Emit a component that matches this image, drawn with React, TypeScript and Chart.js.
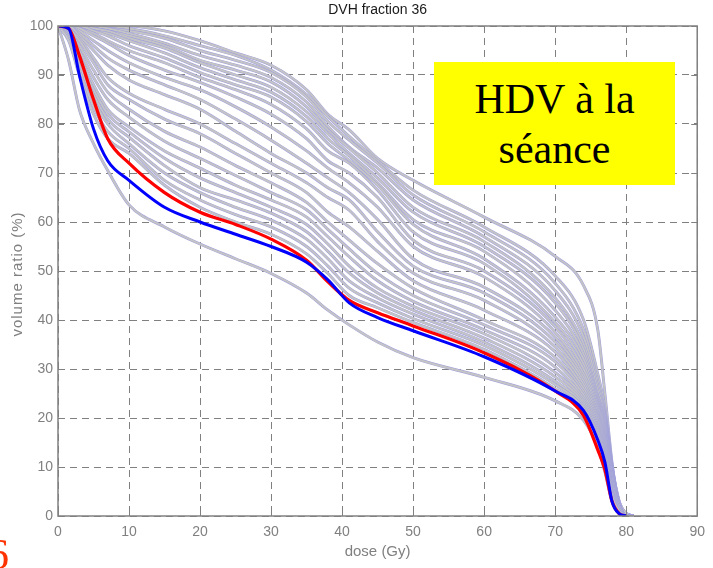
import React, { useEffect, useRef } from "react";
import { Chart, registerables } from "chart.js";

Chart.register(...registerables);

const TITLE = "DVH fraction 36";
const X_TITLE = "dose (Gy)";
const Y_TITLE = "volume ratio (%)";
const BOX_LINES = ["HDV à la", "séance"];

const X_TICKS = [0, 10, 20, 30, 40, 50, 60, 70, 80, 90];
const Y_TICKS = [0, 10, 20, 30, 40, 50, 60, 70, 80, 90, 100];

// shared dose grid (Gy)
const DOSE = [0, 1.5, 3, 5, 7, 10, 15, 20, 25, 30, 35, 38, 41, 45, 50, 60, 70, 74, 76, 77, 78, 79, 80, 81];

// highlighted curves (volume %)
const RED = [100, 99.5, 94, 85, 77, 72, 66, 62, 59.5, 56.5, 52.2, 47.8, 44, 41.5, 38.8, 33.3, 25.5, 20.5, 13.5, 9.5, 3, 0.5, 0, null];
const BLUE = [100, 99.5, 90, 79, 72.5, 68.5, 63, 60, 57.5, 55, 51.8, 48.2, 43.5, 40.5, 37.8, 32.5, 25.5, 21.5, 15.5, 11, 3, 0.5, 0, null];

// other fractions (volume %)
const G0 = [100, 93, 83, 76, 70.5, 63.5, 59, 55.5, 52.5, 49.5, 45.5, 42, 39, 35.5, 32.3, 28.3, 23.5, 19.5, 14, 9, 3, 0.5, 0, 0];
const G1 = [100, 97, 90, 82, 77, 74, 67.5, 63, 60, 57.5, 53.5, 49.5, 45, 42.5, 39.5, 34, 26, 21.5, 16, 11, 4, 1, 0, 0];
const G2 = [100, 97.5, 91, 83.5, 78.5, 75, 68.5, 64.5, 61.5, 59, 55, 51, 46.5, 43.5, 40.3, 34.8, 26.8, 22, 16.5, 11.5, 4.5, 1, 0, 0];
const G3 = [100, 98, 92, 85, 80, 76, 70, 66, 63, 60.4, 56.5, 52.5, 48, 44.5, 41.2, 35.5, 27.5, 22.5, 17, 12, 5, 1, 0, 0];
const G4 = [100, 98, 92.5, 86, 81, 77.3, 71.5, 67, 64.5, 61.8, 58, 54, 49.6, 45.5, 42, 36.3, 28.4, 23, 17.5, 12.5, 5, 1.5, 0, 0];
const G5 = [100, 98.5, 93, 87, 82, 78.4, 73, 69, 66, 63, 59.5, 55.5, 51, 46.5, 42.8, 37.2, 29.3, 23.5, 18, 13, 5.5, 1.5, 0, 0];
const G6 = [100, 99, 94, 88, 83, 79.4, 74.5, 71, 67.5, 64.5, 61, 57, 52.9, 48, 43.8, 38, 30.4, 24, 18.5, 13.5, 6, 1.5, 0, 0];
const G7 = [100, 99, 95, 89.5, 85, 81.4, 76.5, 73, 69.5, 66, 62.5, 58.5, 54.5, 49.5, 45, 39, 31.5, 24.7, 19, 14, 6, 1.5, 0, 0];
const G8 = [100, 99, 96, 91, 86.5, 83, 78.5, 75.3, 71.5, 68, 64, 60, 56.3, 51.5, 46.5, 40, 32.4, 25.3, 19.5, 14.5, 6.5, 2, 0, 0];
const G9 = [100, 99.5, 97, 92.5, 88, 85, 81, 78, 74, 70, 66, 62, 59, 54, 48, 42, 33.5, 26, 20, 15, 7, 2, 0, 0];
const G10 = [100, 99.5, 97.5, 93.5, 89.5, 86.3, 83, 80, 76, 72, 68, 65, 62.4, 56, 49.6, 44, 34.5, 26.8, 20.5, 15.5, 7, 2, 0, 0];
const G11 = [100, 100, 98, 95, 92, 89, 86, 83, 78.5, 74, 70, 67, 64.5, 58, 51, 45.5, 35.5, 27.5, 21, 16, 7.5, 2, 0, 0];
const G12 = [100, 100, 98.5, 96, 93.5, 91, 88, 85, 81, 76.7, 72, 69, 66, 60.5, 52.5, 46.7, 36.5, 28.2, 21.5, 16.5, 8, 2, 0, 0];
const G13 = [100, 100, 99, 97, 95, 92.5, 89.5, 87, 83.5, 79.4, 74.5, 71, 68, 63, 55, 48.8, 37.5, 29, 22, 17, 8, 2, 0, 0];
const G14 = [100, 100, 99.5, 98, 96.5, 94, 91, 88.5, 85.5, 82, 77, 72.5, 70, 65, 56.3, 50, 38.6, 30, 22.5, 17.5, 8.5, 2.5, 0, 0];
const G15 = [100, 100, 99.5, 98.5, 97, 95, 92.5, 89.5, 87, 84, 79, 74.5, 72, 66.5, 58, 51.5, 39.5, 31, 23, 18, 8.5, 2.5, 0, 0];
const G16 = [100, 100, 100, 99, 98, 96, 93.5, 90.5, 88, 85.5, 80.5, 76, 72.6, 67.5, 59.5, 52.5, 40.6, 32, 23.5, 18.5, 9, 2.5, 0, 0];
const G17 = [100, 100, 100, 99, 98.5, 97, 94.5, 91.5, 89, 86.5, 81.5, 77, 73.5, 68, 60.5, 54, 42, 33, 24, 19, 9, 2.5, 0, 0];
const G18 = [100, 100, 100, 99.5, 99, 97.5, 95.5, 92.5, 90, 87.5, 82.5, 78, 74, 69, 62, 55, 43.5, 34, 24.5, 19.5, 9.5, 2.5, 0, 0];
const G19 = [100, 100, 100, 99.5, 99, 98, 96, 93, 91, 88.6, 83.5, 78.8, 75, 70, 63, 56, 44.5, 35, 25.5, 20, 9.5, 2.5, 0, 0];
const G20 = [100, 100, 100, 100, 99.5, 98.5, 96.5, 94, 92, 89.5, 84.5, 79.5, 75.3, 71, 64.5, 57, 46, 36.5, 26.5, 20.5, 10, 3, 0.5, 0];
const G21 = [100, 100, 100, 100, 99.5, 99, 97.5, 95, 93, 90.5, 85.5, 80.5, 76.7, 72, 65.5, 58, 47.5, 38, 27.5, 21, 10, 3, 0.5, 0];
const G22 = [100, 100, 100, 100, 100, 99.5, 98, 96, 94, 91, 86, 81.5, 77.5, 72.5, 66.5, 59, 49, 40, 29, 22, 10.5, 3, 0.5, 0];
const G23 = [100, 100, 100, 100, 100, 100, 99, 97, 94.5, 92, 87, 82, 78.8, 73, 68.5, 61, 53, 47, 38, 25, 11, 2, 0.5, 0];

const GRAY_CURVES = [G0, G1, G2, G3, G4, G5, G6, G7, G8, G9, G10, G11, G12, G13, G14, G15, G16, G17, G18, G19, G20, G21, G22, G23];

const toPoints = (vals: (number | null)[]) =>
  DOSE.map((d, i) => ({ x: d, y: vals[i] as number | null }));

const AXIS_GRAY = "#808080";
const FONT = "'Liberation Sans', Arial, sans-serif";

const framePlugin = {
  id: "matlabFrame",
  afterDraw(chart: any) {
    const { ctx, chartArea } = chart;
    const { left, right, top, bottom } = chartArea;
    const xs = chart.scales.x;
    const ys = chart.scales.y;
    ctx.save();
    ctx.strokeStyle = AXIS_GRAY;
    ctx.lineWidth = 1.5;
    ctx.setLineDash([]);
    ctx.strokeRect(left, top, right - left, bottom - top);
    ctx.lineWidth = 1;
    const tl = 6;
    ctx.beginPath();
    X_TICKS.forEach((v) => {
      const px = Math.round(xs.getPixelForValue(v)) + 0.5;
      ctx.moveTo(px, bottom);
      ctx.lineTo(px, bottom - tl);
      ctx.moveTo(px, top);
      ctx.lineTo(px, top + tl);
    });
    Y_TICKS.forEach((v) => {
      const py = Math.round(ys.getPixelForValue(v)) + 0.5;
      ctx.moveTo(left, py);
      ctx.lineTo(left + tl, py);
      ctx.moveTo(right, py);
      ctx.lineTo(right - tl, py);
    });
    ctx.stroke();

    // titles
    const cx = (left + right) / 2;
    ctx.fillStyle = "#1a1a1a";
    ctx.font = `14px ${FONT}`;
    ctx.textAlign = "center";
    ctx.textBaseline = "middle";
    ctx.fillText(TITLE, cx, 10);

    ctx.fillStyle = AXIS_GRAY;
    ctx.font = `15px ${FONT}`;
    ctx.fillText(X_TITLE, cx, 552);

    ctx.translate(18, (top + bottom) / 2 + 3);
    ctx.rotate(-Math.PI / 2);
    try {
      ctx.letterSpacing = "1px";
    } catch (e) {}
    ctx.fillText(Y_TITLE, 0, 0);
    ctx.restore();
  },
};

export default function App() {
  const ref = useRef<HTMLCanvasElement | null>(null);

  useEffect(() => {
    if (!ref.current) return;
    const datasets: any[] = [];
    datasets.push({
      label: "blue",
      data: toPoints(BLUE),
      borderColor: "#0000ff",
      borderWidth: 3,
      order: 0,
    });
    datasets.push({
      label: "red",
      data: toPoints(RED),
      borderColor: "#ff0000",
      borderWidth: 3.2,
      order: 1,
    });
    GRAY_CURVES.forEach((vals, i) => {
      datasets.push({
        label: `g${i}-core`,
        data: toPoints(vals),
        borderColor: "#c4c4c6",
        borderWidth: 2,
        order: 10 + 2 * i,
      });
      datasets.push({
        label: `g${i}-edge`,
        data: toPoints(vals),
        borderColor: "#9e9ede",
        borderWidth: 2.9,
        order: 11 + 2 * i,
      });
    });

    const chart = new Chart(ref.current, {
      type: "line",
      data: { datasets },
      options: {
        responsive: false,
        animation: false,
        devicePixelRatio: 1,
        layout: { padding: { top: 26, right: 13, left: 0, bottom: 0 } },
        elements: {
          point: { radius: 0, hoverRadius: 0 },
          line: { cubicInterpolationMode: "monotone", fill: false },
        },
        plugins: {
          legend: { display: false },
          tooltip: { enabled: false },
          title: { display: false },
        },
        scales: {
          x: {
            type: "linear",
            min: 0,
            max: 90,
            afterFit: (s: any) => {
              s.height = 52;
            },
            afterBuildTicks: (s: any) => {
              s.ticks = X_TICKS.map((v) => ({ value: v }));
            },
            grid: { color: AXIS_GRAY, lineWidth: 1, drawTicks: false },
            border: { display: false, dash: [7, 5] },
            ticks: {
              color: AXIS_GRAY,
              font: { family: FONT, size: 14 },
              padding: 8,
              maxRotation: 0,
              autoSkip: false,
            },
          },
          y: {
            type: "linear",
            min: 0,
            max: 100,
            afterFit: (s: any) => {
              s.width = 58;
            },
            afterBuildTicks: (s: any) => {
              s.ticks = Y_TICKS.map((v) => ({ value: v }));
            },
            grid: { color: AXIS_GRAY, lineWidth: 1, drawTicks: false },
            border: { display: false, dash: [7, 5] },
            ticks: {
              color: AXIS_GRAY,
              font: { family: FONT, size: 14 },
              padding: 5,
              autoSkip: false,
            },
          },
        },
      },
      plugins: [framePlugin],
    });
    return () => chart.destroy();
  }, []);

  return (
    <div
      style={{
        position: "fixed",
        left: 0,
        top: 0,
        width: 713,
        height: 568,
        overflow: "hidden",
        background: "#ffffff",
      }}
    >
      <canvas ref={ref} width={713} height={568} style={{ display: "block" }} />
      <div
        style={{
          position: "absolute",
          left: 434,
          top: 62,
          width: 241,
          height: 123,
          background: "#ffff00",
          fontFamily: "'Liberation Serif', 'Times New Roman', serif",
          fontSize: 42,
          lineHeight: "50px",
          color: "#000",
          textAlign: "center",
          paddingTop: 12,
          boxSizing: "border-box",
        }}
      >
        {BOX_LINES.map((l) => (
          <div key={l}>{l}</div>
        ))}
      </div>
      <div
        style={{
          position: "absolute",
          left: -13,
          top: 530,
          fontFamily: "'Liberation Serif', 'Times New Roman', serif",
          fontSize: 44,
          color: "#ff3300",
          lineHeight: "50px",
        }}
      >
        6
      </div>
    </div>
  );
}
